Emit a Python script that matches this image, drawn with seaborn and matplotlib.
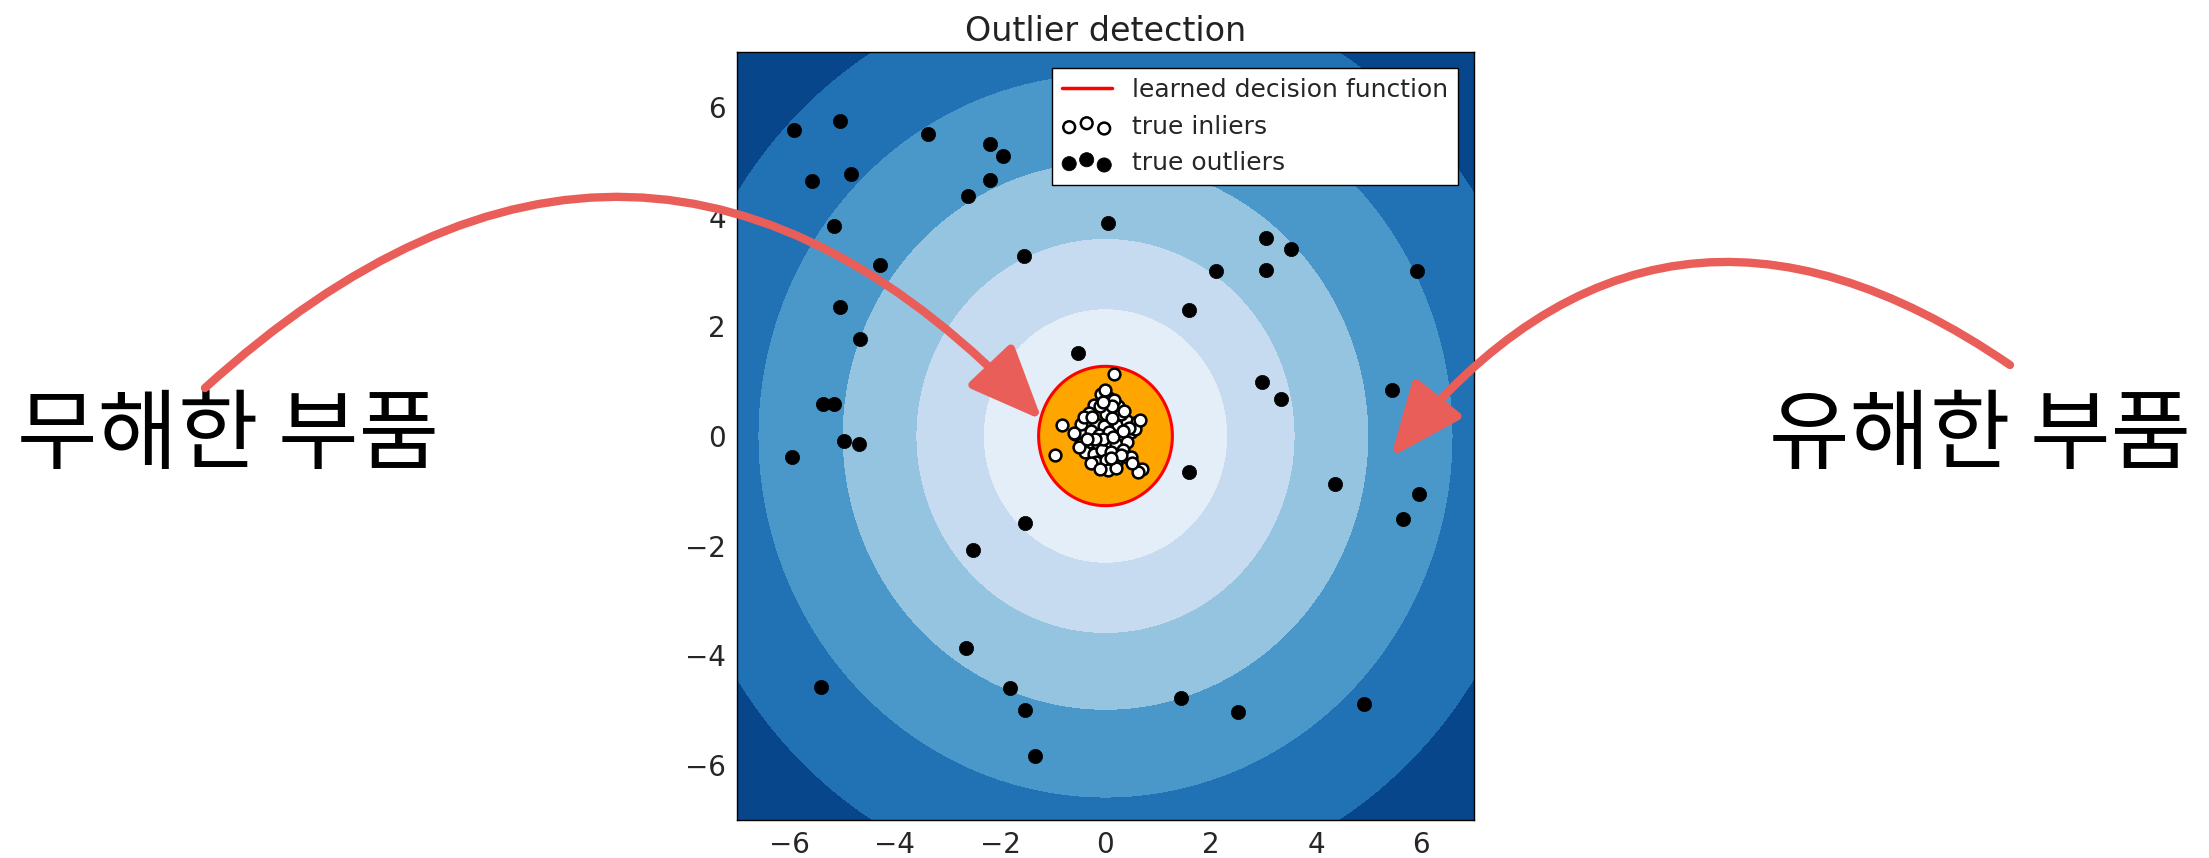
import numpy as np
import matplotlib
matplotlib.use("Agg")
import matplotlib.pyplot as plt
import seaborn as sns
from matplotlib.lines import Line2D
from matplotlib.patches import FancyArrowPatch

sns.set_style("ticks")
plt.rcParams['font.family'] = ['DejaVu Sans']

# ---------------- data ----------------
title = "Outlier detection"
legend_labels = ["learned decision function", "true inliers", "true outliers"]
left_label = "무해한 부품"
right_label = "유해한 부품"
x_ticks = [-6, -4, -2, 0, 2, 4, 6]
y_ticks = [-6, -4, -2, 0, 2, 4, 6]

# radius of the decision threshold and of the band boundaries (data units)
threshold = 1.27
band_levels = [1.27, 2.32, 3.6, 5.0, 6.6, 8.3]

outlier_x = [-5.92, -5.05, -3.37, -2.19, -1.95, -5.58, -4.83, -2.19, -2.62, -5.16,
             0.05, -4.29, -1.55, 2.10, 3.04, 3.52, 3.04, 5.92, -5.05, 1.58,
             -4.66, -0.53, 2.97, 3.34, 5.45, -5.37, -5.16, -4.96, -4.69, -5.95,
             1.59, 4.36, 5.96, 5.65, -1.52, -2.52, -2.64, -5.41, -1.82, -1.52,
             1.43, 2.51, 4.91, -1.34]
outlier_y = [5.57, 5.75, 5.50, 5.33, 5.11, 4.64, 4.77, 4.67, 4.37, 3.82,
             3.88, 3.11, 3.28, 3.00, 3.61, 3.41, 3.03, 3.00, 2.36, 2.29,
             1.77, 1.51, 0.98, 0.67, 0.84, 0.58, 0.59, -0.10, -0.14, -0.39,
             -0.66, -0.88, -1.06, -1.51, -1.59, -2.08, -3.87, -4.58, -4.60, -5.00,
             -4.78, -5.04, -4.88, -5.83]

inlier_x = [-0.09, 0.07, 0.24, -0.22, -0.31, 0.01, -0.57, -0.34, -0.18, -0.02,
            0.24, 0.40, 0.59, -0.44, -0.28, -0.12, 0.07, 0.27, 0.49, -0.47,
            -0.31, -0.15, 0.01, 0.20, 0.40, -0.38, -0.22, -0.06, 0.11, 0.33,
            -0.18, 0.01, 0.20, 0.40, 0.04, 0.20, 0.69, 0.62, 0.16, -0.83,
            -0.96, 0.17, -0.28, -0.50, -0.47, 0.56, 0.49, 0.30, -0.10, 0.12,
            -0.05, 0.15, 0.65, -0.60, 0.12, -0.05, 0.35, -0.40, 0.45, -0.20,
            0.30, -0.10, 0.50, -0.35, 0.00, 0.33, -0.25, 0.10]
inlier_y = [0.77, 0.69, 0.55, 0.57, 0.42, 0.41, 0.04, 0.28, 0.22, 0.19,
            0.19, 0.27, 0.25, 0.07, 0.09, 0.01, 0.07, 0.01, 0.07, -0.14,
            -0.11, -0.14, -0.17, -0.14, -0.11, -0.29, -0.32, -0.26, -0.29, -0.26,
            -0.47, -0.44, -0.50, -0.38, -0.62, -0.59, -0.60, -0.65, 1.13, 0.20,
            -0.34, 0.65, -0.50, -0.20, 0.22, 0.12, -0.38, 0.40, 0.55, 0.32,
            -0.05, -0.02, 0.30, 0.05, 0.55, 0.62, 0.45, 0.35, 0.15, -0.05,
            -0.35, -0.60, -0.50, -0.05, 0.83, 0.10, 0.35, -0.40]

# ---------------- styles ----------------
band_colors = ['#e3eef9', '#c6dbef', '#94c4df', '#4a98c9', '#2171b5', '#08468b']
arrow_color = '#EA5E59'

fig = plt.figure(figsize=(22.09, 8.58), dpi=100)
ax = fig.add_axes([0.3336, 0.0443, 0.3337, 0.8951])

xx, yy = np.meshgrid(np.linspace(-7, 7, 600), np.linspace(-7, 7, 600))
Z = np.hypot(xx, yy)
levels = band_levels + [float(Z.max()) + 0.01]
ax.contourf(xx, yy, Z, levels=levels, colors=band_colors, zorder=1)
ax.contourf(xx, yy, Z, levels=[0, threshold], colors='orange', zorder=2)
ax.contour(xx, yy, Z, levels=[threshold], colors='red', linewidths=2.2, zorder=3)

sns.scatterplot(x=inlier_x, y=inlier_y, ax=ax, color='white', edgecolor='black',
                s=72, linewidth=1.8, zorder=5, legend=False)
h_in = ax.collections[-1]
sns.scatterplot(x=outlier_x, y=outlier_y, ax=ax, color='black', edgecolor='black',
                s=105, linewidth=0.5, zorder=5, legend=False)
h_out = ax.collections[-1]

h_line = Line2D([], [], color='red', lw=2.5)
leg = ax.legend(handles=[h_line, h_in, h_out], labels=legend_labels,
                loc='upper right', scatterpoints=3,
                scatteryoffsets=[0.375, 0.6, 0.3], fontsize=18,
                fancybox=False, edgecolor='black', framealpha=1,
                borderaxespad=0.65)
leg.get_frame().set_linewidth(1.0)
leg.set_zorder(10)

ax.set_xlim(-7, 7)
ax.set_ylim(-7, 7)
ax.set_xticks(x_ticks)
ax.set_yticks(y_ticks)
ax.tick_params(direction='in', top=True, right=True, length=7, width=1,
               labelsize=20, pad=8, color='black')
for sp in ax.spines.values():
    sp.set_color('black')
    sp.set_linewidth(1.0)
    sp.set_zorder(11)
ax.set_title(title, fontsize=24, pad=8, color='#222222')

# ---------------- annotations ----------------
fig.text(0.0077, 0.491, left_label, fontsize=63, family=['Noto Sans CJK KR', 'DejaVu Sans'],
         ha='left', va='center', color='black')
fig.text(0.9919, 0.491, right_label, fontsize=63, family=['Noto Sans CJK KR', 'DejaVu Sans'],
         ha='right', va='center', color='black')

arrow_left = FancyArrowPatch((0.0928, 0.5478), (0.4717, 0.5105),
                             transform=fig.transFigure,
                             connectionstyle='arc3,rad=-0.49',
                             arrowstyle='-|>,head_length=0.9,head_width=0.38',
                             mutation_scale=50, lw=6, color=arrow_color,
                             shrinkA=0, shrinkB=0, zorder=20)
arrow_right = FancyArrowPatch((0.9099, 0.5746), (0.6297, 0.4674),
                              transform=fig.transFigure,
                              connectionstyle='arc3,rad=0.465',
                              arrowstyle='-|>,head_length=0.9,head_width=0.38',
                              mutation_scale=50, lw=6, color=arrow_color,
                              shrinkA=0, shrinkB=0, zorder=20)
fig.add_artist(arrow_left)
fig.add_artist(arrow_right)

fig.savefig("out.png", dpi=100)
